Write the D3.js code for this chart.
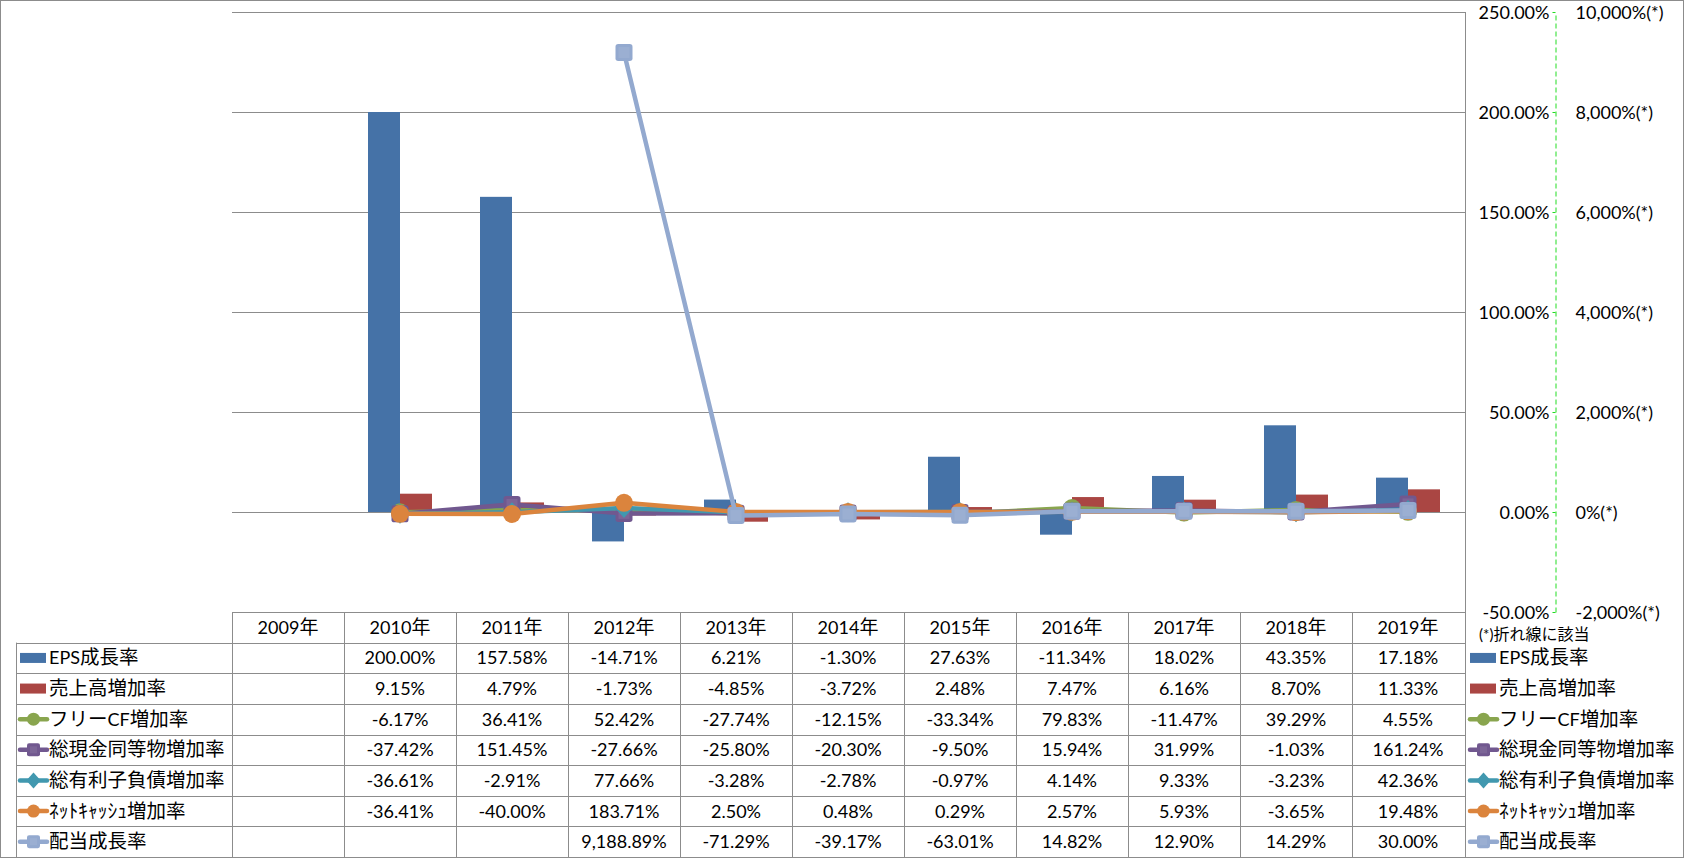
<!DOCTYPE html>
<html><head><meta charset="utf-8">
<script src="https://cdn.jsdelivr.net/npm/d3@7"></script>
<style>
html,body{margin:0;padding:0;background:#fff;}
svg{display:block;}
text{font-family:Lato,"Noto Sans CJK JP",sans-serif;fill:#000;}
</style></head>
<body>
<svg id="chart" width="1685" height="858"></svg>
<script>
// ---------------- data ----------------
const years = ["2009年","2010年","2011年","2012年","2013年","2014年","2015年","2016年","2017年","2018年","2019年"];
const epsGrowth      = [null, 200.00, 157.58, -14.71, 6.21, -1.30, 27.63, -11.34, 18.02, 43.35, 17.18];
const salesGrowth    = [null, 9.15, 4.79, -1.73, -4.85, -3.72, 2.48, 7.47, 6.16, 8.70, 11.33];
const fcfGrowth      = [null, -6.17, 36.41, 52.42, -27.74, -12.15, -33.34, 79.83, -11.47, 39.29, 4.55];
const cashGrowth     = [null, -37.42, 151.45, -27.66, -25.80, -20.30, -9.50, 15.94, 31.99, -1.03, 161.24];
const debtGrowth     = [null, -36.61, -2.91, 77.66, -3.28, -2.78, -0.97, 4.14, 9.33, -3.23, 42.36];
const netCashGrowth  = [null, -36.41, -40.00, 183.71, 2.50, 0.48, 0.29, 2.57, 5.93, -3.65, 19.48];
const dividendGrowth = [null, null, null, 9188.89, -71.29, -39.17, -63.01, 14.82, 12.90, 14.29, 30.00];
const seriesNames = ["EPS成長率","売上高増加率","フリーCF増加率","総現金同等物増加率","総有利子負債増加率","ﾈｯﾄｷｬｯｼｭ増加率","配当成長率"];
const leftTicks  = [-50, 0, 50, 100, 150, 200, 250];
const rightTicks = [-2000, 0, 2000, 4000, 6000, 8000, 10000];
const noteLabel = "(*)折れ線に該当";

// ---------------- styles ----------------
const colors = ["#4572A7","#AA4643","#89A54E","#71588F","#4198AF","#DB843D","#93A9CF"];
const kinds  = ["bar","bar","circle","square","diamond","circle","square"];
const allSeries = [epsGrowth, salesGrowth, fcfGrowth, cashGrowth, debtGrowth, netCashGrowth, dividendGrowth];

const W = 1685, H = 858;
const plotL = 232, plotR = 1464, plotT = 12, plotB = 612;
const tableB = 857, legendL = 16;
const gridColor = "#8c8c8c";
const numSize = 18;

const loc = d3.formatLocale({decimal:".", thousands:",", grouping:[3], currency:["",""], minus:"-"});

const svg = d3.select("#chart");

// outer border
svg.append("rect").attr("x",0.5).attr("y",0.5).attr("width",W-2).attr("height",H-1)
  .attr("fill","none").attr("stroke",gridColor);

const x = d3.scaleBand().domain(years).range([plotL, plotR]);
const xInner = d3.scaleBand().domain([0,1]).range([0, 64]);
const groupOff = (x.bandwidth() - 64) / 2;
const y1 = d3.scaleLinear().domain([-50, 250]).range([plotB, plotT]);
const y2 = d3.scaleLinear().domain([-2000, 10000]).range([plotB, plotT]);

// gridlines
svg.append("g").selectAll("line").data(leftTicks.filter(d => d > -50)).join("line")
  .attr("x1", plotL).attr("x2", plotR + 1)
  .attr("y1", d => Math.round(y1(d)) + 0.5).attr("y2", d => Math.round(y1(d)) + 0.5)
  .attr("stroke", gridColor).attr("stroke-width", 1);

// bars
const barG = svg.append("g");
[0,1].forEach(si => {
  barG.append("g").selectAll("rect")
    .data(years.map((yr,i) => ({yr, v: allSeries[si][i]})).filter(d => d.v !== null))
    .join("rect")
    .attr("x", d => x(d.yr) + groupOff + xInner(si))
    .attr("width", xInner.bandwidth())
    .attr("y", d => Math.min(y1(d.v), y1(0)))
    .attr("height", d => Math.abs(y1(d.v) - y1(0)))
    .attr("fill", colors[si]);
});

// marker drawing
function drawMarker(g, kind, color, cx, cy, s) {
  if (kind === "circle") {
    g.append("circle").attr("cx",cx).attr("cy",cy).attr("r",s/2).attr("fill",color);
  } else if (kind === "square") {
    g.append("rect").attr("x",cx-s/2).attr("y",cy-s/2).attr("width",s).attr("height",s)
      .attr("rx",s*0.16).attr("fill",color);
    g.append("rect").attr("x",cx-s/2+3).attr("y",cy-s/2+3).attr("width",s-6).attr("height",s-6)
      .attr("fill","#ffffff").attr("opacity",0.08);
  } else if (kind === "diamond") {
    const r = s/2 + 1.5;
    g.append("path").attr("d",`M${cx},${cy-r}L${cx+r*0.9},${cy}L${cx},${cy+r}L${cx-r*0.9},${cy}Z`).attr("fill",color);
  }
}

// lines (secondary axis)
const lineGen = d3.line().defined(d => d.v !== null)
  .x(d => x(d.yr) + x.bandwidth()/2).y(d => y2(d.v));
for (let si = 2; si < 7; si++) {
  const pts = years.map((yr,i) => ({yr, v: allSeries[si][i]}));
  const g = svg.append("g");
  g.append("path").datum(pts).attr("d", lineGen).attr("fill","none")
    .attr("stroke", colors[si]).attr("stroke-width", 4.5)
    .attr("stroke-linejoin","round").attr("stroke-linecap","round");
  pts.filter(d => d.v !== null).forEach(d => {
    drawMarker(g, kinds[si], colors[si], x(d.yr) + x.bandwidth()/2, y2(d.v), kinds[si]==="circle"?18:17);
  });
}

// axes at the right
const axisX = 1555;
const leftAxis = d3.axisLeft(y1).tickValues(leftTicks).tickSize(3).tickSizeOuter(0).tickPadding(3)
  .tickFormat(d => loc.format(".2f")(d) + "%");
const la = svg.append("g").attr("transform", `translate(${axisX + 0.5},0)`).call(leftAxis);
la.select(".domain").attr("stroke","#22dd22").attr("stroke-dasharray","5,3");
la.selectAll(".tick line").attr("stroke","#22dd22");
la.selectAll(".tick text").attr("font-size",numSize).attr("font-family",'Lato,"Noto Sans CJK JP",sans-serif')
  .attr("dy","0.36em").attr("fill", d => d < 0 ? "#ff0000" : "#000");

const rightAxis = d3.axisRight(y2).tickValues(rightTicks).tickSize(0).tickPadding(20)
  .tickFormat(d => loc.format(",")(d) + "%(*)");
const ra = svg.append("g").attr("transform", `translate(${axisX + 0.5},0)`).call(rightAxis);
ra.select(".domain").remove();
ra.selectAll(".tick text").attr("font-size",numSize).attr("font-family",'Lato,"Noto Sans CJK JP",sans-serif')
  .attr("dy","0.36em").attr("fill", d => d < 0 ? "#ff0000" : "#000");

// rich text helper: CJK runs in a larger size
const cjkRe = /[\u3000-\u30ff\u4e00-\u9fff\uff61-\uff9f]/;
function richText(g, str, xPos, yPos, anchor, latinSize, cjkSize) {
  const t = g.append("text").attr("x", xPos).attr("y", yPos).attr("text-anchor", anchor).attr("font-size", latinSize);
  let runs = [];
  for (const ch of str) {
    const c = cjkRe.test(ch);
    if (runs.length && runs[runs.length-1].c === c) runs[runs.length-1].s += ch;
    else runs.push({c, s: ch});
  }
  runs.forEach(r => t.append("tspan").attr("font-size", r.c ? cjkSize : latinSize).text(r.s));
  return t;
}

// ---------------- data table ----------------
const rowH = (tableB - plotB) / 8;
const tg = svg.append("g");
const tableLine = (x1,y1_,x2,y2_) => tg.append("line").attr("x1",x1).attr("y1",y1_).attr("x2",x2).attr("y2",y2_)
  .attr("stroke", gridColor).attr("stroke-width",1);
// horizontal lines
tableLine(plotL, plotB + 0.5, plotR + 1, plotB + 0.5);
for (let r = 1; r <= 8; r++) {
  const yy = Math.round(plotB + r*rowH) + 0.5;
  tableLine(legendL + 0.5, yy, plotR + 1, yy);
}
// vertical lines
years.forEach(yr => tableLine(Math.round(x(yr)) + 0.5, plotB, Math.round(x(yr)) + 0.5, tableB));
tableLine(plotR + 1.5, plotT, plotR + 1.5, tableB);
tableLine(legendL + 0.5, plotB + rowH, legendL + 0.5, tableB);

// header
years.forEach(yr => richText(tg, yr, x(yr) + x.bandwidth()/2, plotB + rowH/2 + 6.5, "middle", numSize, 19));
const fmt = d => loc.format(",.2f")(d) + "%";
allSeries.forEach((ser, si) => {
  const cy = plotB + rowH*(si+1) + rowH/2;
  ser.forEach((v,i) => {
    if (v === null) return;
    tg.append("text").attr("x", x(years[i]) + x.bandwidth()/2).attr("y", cy + 6.5)
      .attr("text-anchor","middle").attr("font-size",numSize).text(fmt(v));
  });
});

// legend keys (left inside table, and right of table)
function legendKey(g, si, x0, cy) {
  if (kinds[si] === "bar") {
    g.append("rect").attr("x", x0).attr("y", cy - 5).attr("width", 26).attr("height", 10).attr("fill", colors[si]);
  } else {
    g.append("line").attr("x1", x0).attr("x2", x0 + 27).attr("y1", cy).attr("y2", cy)
      .attr("stroke", colors[si]).attr("stroke-width", 4.5).attr("stroke-linecap","round");
    drawMarker(g, kinds[si], colors[si], x0 + 13.5, cy, 13);
  }
}
seriesNames.forEach((nm, si) => {
  const cy = plotB + rowH*(si+1) + rowH/2;
  legendKey(tg, si, 20, cy);
  richText(tg, nm, 49, cy + 6.5, "start", numSize, 19.5);
  legendKey(tg, si, 1470, cy);
  richText(tg, nm, 1499, cy + 6.5, "start", numSize, 19.5);
});
richText(tg, noteLabel, 1479, 640, "start", 15, 16);
</script>
</body></html>
